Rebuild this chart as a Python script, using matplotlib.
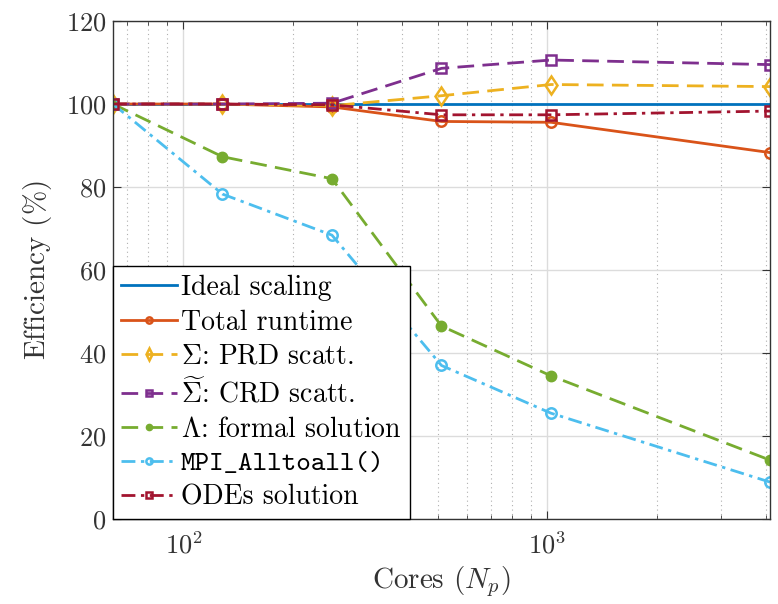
import matplotlib
matplotlib.use("Agg")
import matplotlib.pyplot as plt
from matplotlib.ticker import LogLocator, NullFormatter, MultipleLocator

plt.rcParams['font.family'] = ['cmr10', 'DejaVu Serif']
plt.rcParams['mathtext.fontset'] = 'cm'
plt.rcParams['axes.formatter.use_mathtext'] = True

cores = [64, 128, 256, 512, 1024, 4096]

ideal = [100, 100, 100, 100, 100, 100]
total_runtime = [100, 100, 99.3, 95.8, 95.6, 88.3]
prd_scatt = [100, 100, 99.6, 102.0, 104.7, 104.2]
crd_scatt = [100, 100, 100.2, 108.6, 110.6, 109.5]
formal_sol = [100, 87.3, 82.0, 46.5, 34.5, 14.2]
alltoall = [100, 78.3, 68.4, 37.0, 25.5, 8.9]
odes_sol = [100, 100, 99.8, 97.4, 97.4, 98.3]

blue = '#0072BD'
orange = '#D95319'
yellow = '#EDB120'
purple = '#7E2F8E'
green = '#77AC30'
cyan = '#4DBEEE'
darkred = '#A2142F'

fig = plt.figure(figsize=(7.78, 6.04), dpi=100)
ax = fig.add_axes([0.1452, 0.1407, 0.8445, 0.8245])

lw = 2.0
ms = 7.5
dash = (0, (6, 3))
dashdot = (0, (5, 2, 1.2, 2))
ax.plot(cores, ideal, color=blue, lw=lw, label='Ideal scaling')
ax.plot(cores, total_runtime, color=orange, lw=lw, marker='o', ms=ms,
        mfc='none', mew=1.8, label='Total runtime')
ax.plot(cores, prd_scatt, color=yellow, lw=lw, ls=dash, marker='d', ms=ms + 2,
        mfc='none', mew=1.8, label=r'$\Sigma$: PRD scatt.')
ax.plot(cores, crd_scatt, color=purple, lw=lw, ls=dash, marker='s', ms=ms,
        mfc='none', mew=1.8, label=r'$\widetilde{\Sigma}$: CRD scatt.')
ax.plot(cores, formal_sol, color=green, lw=lw, ls=dash, marker='o', ms=ms,
        mfc=green, mew=1.0, label=r'$\Lambda$: formal solution')
ax.plot(cores, alltoall, color=cyan, lw=lw, ls=dashdot, marker='o', ms=ms,
        mfc='none', mew=1.8, label='MPI_Alltoall()')
ax.plot(cores, odes_sol, color=darkred, lw=lw, ls=dashdot, marker='s', ms=ms,
        mfc='none', mew=1.8, label='ODEs solution')

ax.set_xscale('log')
ax.set_xlim(64, 4096)
ax.set_ylim(0, 120)
ax.yaxis.set_major_locator(MultipleLocator(20))
ax.xaxis.set_major_locator(LogLocator(base=10))
ax.xaxis.set_minor_locator(LogLocator(base=10, subs=range(2, 10)))
ax.xaxis.set_minor_formatter(NullFormatter())

ax.grid(True, which='major', color='#dcdcdc', lw=1.0, ls='-')
ax.grid(True, which='minor', axis='x', color='#b0b0b0', lw=0.8, ls=(0, (1, 3)))
ax.set_axisbelow(True)

for s in ax.spines.values():
    s.set_color('#333333')
    s.set_linewidth(1.0)
ax.tick_params(which='both', direction='in', top=True, right=True,
               colors='#333333', labelcolor='#333333', labelsize=19)
ax.tick_params(which='major', length=6)
ax.tick_params(which='minor', length=3)
ax.tick_params(axis='x', pad=9)
ax.tick_params(axis='y', pad=5)

ax.set_xlabel(r'Cores $(N_p)$', fontsize=21, color='#333333', labelpad=4)
ax.set_ylabel(r'Efficiency $(\%)$', fontsize=21, color='#333333', labelpad=8)

leg = ax.legend(loc='lower left', fontsize=20, frameon=True, fancybox=False,
                framealpha=1.0, edgecolor='black', handlelength=2.0,
                handletextpad=0.15, borderaxespad=0.0, labelspacing=0.29,
                borderpad=0.3, markerscale=0.6)
leg.get_frame().set_linewidth(1.0)
# monospace for the MPI routine name
leg.get_texts()[5].set_family('cmtt10')

fig.savefig('out.png', dpi=100)
